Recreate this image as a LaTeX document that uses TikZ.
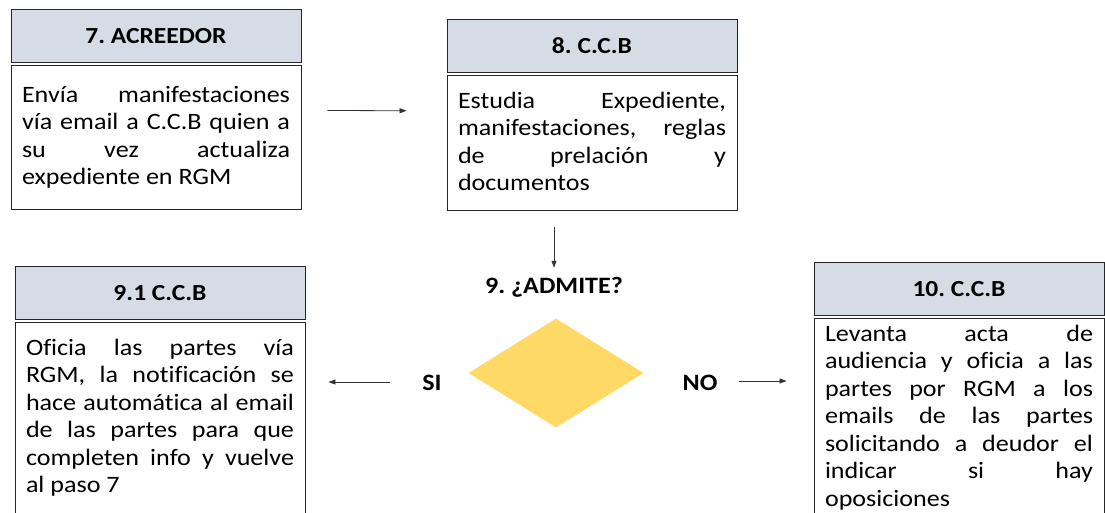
\documentclass[tikz,border=0pt]{standalone}
\usepackage{fontspec}
\setmainfont{Carlito}[FakeStretch=1.11, Ligatures=NoCommon]
\usepackage{xcolor}
\usetikzlibrary{positioning,shapes.geometric,arrows.meta}
\definecolor{headerblue}{HTML}{D6DCE5}
\definecolor{decisionyellow}{HTML}{FFD966}
\definecolor{borderdark}{HTML}{262626}
\hyphenpenalty=10000
\hbadness=10000
\frenchspacing
\tikzset{
    header/.style={draw=borderdark, line width=0.9pt, fill=headerblue, minimum width=290pt, minimum height=53pt, inner sep=0pt, font=\bfseries\fontsize{23}{27}\selectfont},
    bodybox/.style={draw=borderdark, line width=0.9pt, fill=white, minimum width=290pt, text width=268pt, inner xsep=11pt, inner ysep=0pt, align=justify, font=\fontsize{23.5}{27.5}\selectfont},
    decision/.style={diamond, fill=decisionyellow, minimum width=175pt, minimum height=109pt, inner sep=0pt},
    tag/.style={inner sep=2pt, font=\bfseries\fontsize{23.5}{27}\selectfont},
    flecha/.style={draw=black!80, line width=0.8pt, -{Triangle[length=7pt,width=5pt]}}
}
\begin{document}
\begin{tikzpicture}[x=1pt, y=-1pt]
    \useasboundingbox (0,0) rectangle (1105,513);
    \clip (0,0) rectangle (1105,513);

    % paso 7
    \node[header] (h7) at (156,36) {7. ACREEDOR};
    \node[bodybox, below=2pt of h7, text height=37pt, text depth=107pt] (b7) {
        Envía manifestaciones\linebreak vía email a C.C.B quien a\linebreak su vez actualiza\linebreak expediente en RGM
    };

    % paso 8
    \node[header] (h8) at (592,46) {8. C.C.B};
    \node[bodybox, below=2pt of h8, text height=33pt, text depth=102pt] (b8) {
        Estudia Expediente,\linebreak manifestaciones, reglas\linebreak de prelación y\linebreak documentos
    };

    % decision 9
    \node[tag] (admite) at (554,287) {9. ¿ADMITE?};
    \node[decision] (d9) at (556,373) {};
    \node[tag] (si) at (432,383) {SI};
    \node[tag] (no) at (700,383) {NO};

    % paso 9.1
    \node[header] (h91) at (160,293) {9.1 C.C.B};
    \node[bodybox, below=2pt of h91, text height=33pt, text depth=200pt] (b91) {
        Oficia las partes vía\linebreak RGM, la notificación se\linebreak hace automática al email\linebreak de las partes para que\linebreak completen info y vuelve\linebreak al paso 7
    };

    % paso 10
    \node[header] (h10) at (959,289) {10. C.C.B};
    \node[bodybox, below=2pt of h10, text height=23pt, text depth=200pt] (b10) {
        Levanta acta de\linebreak audiencia y oficia a las\linebreak partes por RGM a los\linebreak emails de las partes\linebreak solicitando a deudor el\linebreak indicar si hay\linebreak oposiciones
    };

    % flechas
    \draw[flecha, shorten <=26pt, shorten >=40pt] ([yshift=27pt]b7.east) -- ([yshift=32pt]b8.west);
    \draw[flecha, shorten <=16pt, shorten >=7pt] (b8.south -| admite.north) -- (admite.north);
    \draw[flecha, shorten <=30pt, shorten >=23pt] ([yshift=1pt]si.west) -- ([yshift=1pt]si.west -| b91.east);
    \draw[flecha, shorten <=19pt, shorten >=27pt] ([yshift=2pt]no.east) -- ([yshift=2pt]no.east -| b10.west);
\end{tikzpicture}
\end{document}
